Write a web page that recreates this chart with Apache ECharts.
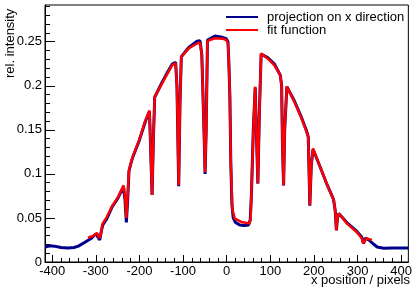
<!DOCTYPE html>
<html>
<head>
<meta charset="utf-8">
<script src="https://cdn.jsdelivr.net/npm/echarts@6/dist/echarts.min.js"></script>
<style>
html,body{margin:0;padding:0;background:#fff;}
#chart{width:415px;height:291px;}
</style>
</head>
<body>
<div id="chart"></div>
<script>
// ---- data ----
var projX = [-416,-405,-395,-380,-365,-350,-340,-325,-310,-300,-296,-291,-287,-284,-275,-262,-250,-240,-236.5,-233,-230,-227,-224,-220,-216,-201,-186,-177,-174,-171,-168,-165,-148,-135,-125,-117,-114,-110,-107,-104,-87,-68,-61,-57,-52,-49.5,-47,-44,-27,-10,-1,3,5,7.3,9.5,12,15,20,30,40,50,54,57,61,65.4,68,71.5,75,79,94,109,123,126,128,130.5,133,138,155,170,183,187,189,190.6,194,198,215,230,245,249,251.5,254,257,276,298,310,313.7,318,326,335,345,360,380,400,416];
var projY = [0.017,0.0185,0.018,0.0165,0.016,0.0165,0.018,0.0225,0.027,0.032,0.034,0.025,0.036,0.042,0.049,0.063,0.072,0.082,0.085,0.07,0.045,0.07,0.103,0.111,0.118,0.137,0.160,0.171,0.170,0.076,0.14,0.187,0.204,0.216,0.2245,0.2265,0.2,0.086,0.18,0.233,0.2435,0.2505,0.251,0.235,0.15,0.100,0.15,0.252,0.2565,0.255,0.2535,0.25,0.226,0.188,0.112,0.065,0.05,0.045,0.042,0.0415,0.042,0.048,0.08,0.15,0.198,0.15,0.089,0.17,0.236,0.232,0.225,0.212,0.2,0.13,0.087,0.15,0.199,0.183,0.166,0.149,0.142,0.1,0.064,0.11,0.128,0.107,0.088,0.071,0.0575,0.036,0.05,0.055,0.0445,0.035,0.028,0.021,0.027,0.025,0.021,0.017,0.0155,0.016,0.016,0.016];
var fitX = [-318,-305,-297,-292,-289,-285,-275,-262,-250,-240,-236.5,-233,-230,-227,-224,-216,-201,-186,-177,-174,-171,-168,-165,-148,-125,-117,-114,-110,-107,-104,-87,-68,-61,-57,-52,-49.5,-47,-44,-27,-10,-1,3,5,7.3,9.5,13.2,18.6,33.6,52.7,55,58,62,65.4,68,71.5,75,79,94,109,123,126,128,130.5,133,138,155,170,183,187,189,190.6,194,198,215,230,245.6,249.2,251.5,254,257,276,298,310,313.7,319.6,326,333];
var fitY = [0.0275,0.030,0.033,0.027,0.03,0.043,0.051,0.064,0.073,0.083,0.087,0.075,0.05,0.075,0.104,0.119,0.138,0.161,0.172,0.171,0.076,0.14,0.1875,0.2027,0.2235,0.2255,0.2,0.087,0.18,0.233,0.2425,0.248,0.249,0.235,0.15,0.102,0.15,0.251,0.254,0.2535,0.252,0.248,0.2255,0.1875,0.112,0.0588,0.0493,0.0455,0.0436,0.05,0.1,0.16,0.199,0.15,0.089,0.17,0.2368,0.231,0.2235,0.212,0.2,0.13,0.087,0.15,0.199,0.182,0.165,0.148,0.142,0.1,0.0644,0.11,0.129,0.107,0.088,0.070,0.0568,0.036,0.05,0.055,0.0436,0.034,0.0266,0.021,0.0266,0.026,0.025];
var xTicks = [-400,-300,-200,-100,0,100,200,300,400];
var yTicks = [0,0.05,0.1,0.15,0.2,0.25];
var seriesNames = ['projection on x direction','fit function'];

var X_MIN = -416.5, X_MAX = 416.5, Y_MIN = 0, Y_MAX = 0.2917;

function zip(a, b) { return a.map(function (v, i) { return [v, b[i]]; }); }
function minorVals(lo, hi, step, majors) {
  var out = [];
  for (var k = Math.ceil(lo / step); k * step <= hi + 1e-9; k++) {
    var v = +(k * step).toFixed(6);
    if (majors.indexOf(v) < 0) out.push(v);
  }
  return out;
}
var xMinor = minorVals(X_MIN, X_MAX, 20, xTicks);
var yMinor = minorVals(Y_MIN, Y_MAX, 0.01, yTicks);

var FONT = 'Liberation Sans';
var chart = echarts.init(document.getElementById('chart'), null, {renderer: 'canvas'});
chart.setOption({
  animation: false,
  backgroundColor: '#fff',
  grid: {left: 45, right: 3, top: 5, bottom: 29, containLabel: false, show: true, borderColor: '#000', borderWidth: 1, backgroundColor: 'transparent'},
  legend: {
    orient: 'vertical', left: 226, top: 10.5, padding: 0, itemGap: 0,
    itemWidth: 32, itemHeight: 2, icon: 'rect',
    textStyle: {fontFamily: FONT, fontSize: 13, color: '#000', lineHeight: 12, padding: [0, 0, 0, 4]},
    data: seriesNames
  },
  xAxis: [{
    type: 'value', min: X_MIN, max: X_MAX, gridIndex: 0, position: 'bottom',
    axisLine: {show: true, onZero: false, lineStyle: {color: '#000', width: 1}},
    axisTick: {show: true, inside: true, length: 7, customValues: xTicks, lineStyle: {color: '#000'}},
    axisLabel: {show: true, customValues: xTicks, margin: 3, fontFamily: FONT, fontSize: 13, color: '#000'},
    splitLine: {show: false}
  }, {
    type: 'value', min: X_MIN, max: X_MAX, gridIndex: 0, position: 'bottom',
    axisLine: {show: false, onZero: false},
    axisTick: {show: true, inside: true, length: 4, customValues: xMinor, lineStyle: {color: '#000'}},
    axisLabel: {show: false},
    splitLine: {show: false}
  }],
  yAxis: [{
    type: 'value', min: Y_MIN, max: Y_MAX, gridIndex: 0, position: 'left',
    axisLine: {show: true, onZero: false, lineStyle: {color: '#000', width: 1}},
    axisTick: {show: true, inside: true, length: 10, customValues: yTicks, lineStyle: {color: '#000'}},
    axisLabel: {show: true, customValues: yTicks, margin: 3, fontFamily: FONT, fontSize: 13, color: '#000'},
    splitLine: {show: false}
  }, {
    type: 'value', min: Y_MIN, max: Y_MAX, gridIndex: 0, position: 'left',
    axisLine: {show: false, onZero: false},
    axisTick: {show: true, inside: true, length: 5, customValues: yMinor, lineStyle: {color: '#000'}},
    axisLabel: {show: false},
    splitLine: {show: false}
  }],
  graphic: [
    {type: 'text', style: {text: 'rel. intensity', fontFamily: FONT, fontSize: 13, fill: '#000'}, rotation: Math.PI / 2, x: 4, y: 78, silent: true},
    {type: 'text', right: 5, top: 274, style: {text: 'x position / pixels', fontFamily: FONT, fontSize: 13, fill: '#000'}, silent: true}
  ],
  series: [{
    name: seriesNames[0], type: 'line', xAxisIndex: 0, yAxisIndex: 0,
    data: zip(projX, projY), showSymbol: false, symbol: 'none',
    lineStyle: {color: '#00008b', width: 3}, itemStyle: {color: '#00008b'}, z: 2
  }, {
    name: seriesNames[1], type: 'line', xAxisIndex: 0, yAxisIndex: 0,
    data: zip(fitX, fitY), showSymbol: false, symbol: 'none',
    lineStyle: {color: '#ff0000', width: 2.5}, itemStyle: {color: '#ff0000'}, z: 3
  }]
});
</script>
</body>
</html>
